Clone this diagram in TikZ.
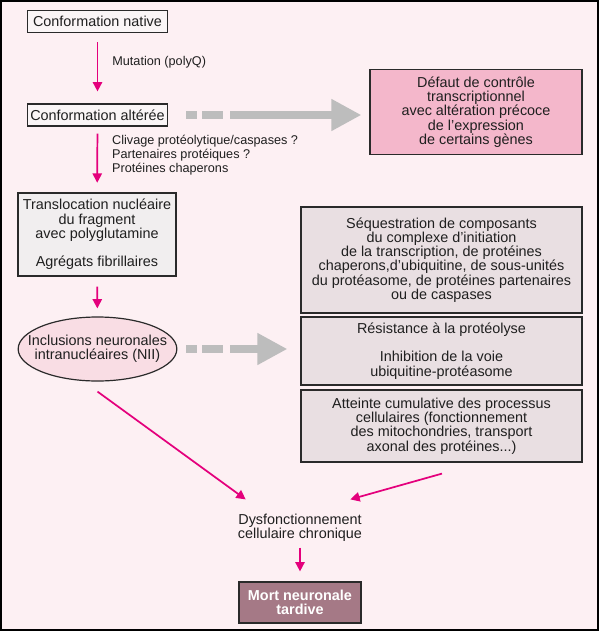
\documentclass[tikz,border=0pt]{standalone}
\usepackage{fontspec}
\setmainfont{Liberation Sans}
\usetikzlibrary{arrows.meta,shapes.geometric}
\definecolor{bgpink}{HTML}{FDF0F3}
\definecolor{boxline}{HTML}{2A2A2A}
\definecolor{statefill}{HTML}{FAF5F6}
\definecolor{translocfill}{HTML}{F1EEEF}
\definecolor{defectfill}{HTML}{F4B7CB}
\definecolor{nIIfill}{HTML}{F9DDE4}
\definecolor{effectfill}{HTML}{E9DFE2}
\definecolor{deathfill}{HTML}{A57986}
\definecolor{arrowpink}{HTML}{E4007C}
\definecolor{arrowgray}{HTML}{BDBDBD}

\begin{document}
\begin{tikzpicture}[
  x=0.75pt,y=-0.75pt,
  font=\fontsize{10.8}{10.7}\selectfont,
  every node/.style={align=center,text=black!88},
  state/.style={draw=boxline,line width=0.9pt,fill=statefill,inner sep=0pt,minimum width=105pt,minimum height=16.5pt},
  transloc/.style={state,fill=translocfill,minimum width=118.5pt,minimum height=62.25pt},
  defect/.style={draw=boxline,line width=0.9pt,fill=defectfill,inner sep=0pt,minimum width=159pt,minimum height=63.75pt},
  inclusion/.style={draw=boxline,line width=0.9pt,fill=nIIfill,shape=ellipse,inner xsep=-14pt,inner ysep=0pt,minimum width=119pt,minimum height=48pt},
  effect/.style={draw=boxline,line width=0.9pt,fill=effectfill,inner sep=0pt,minimum width=210.75pt},
  death/.style={draw=boxline,line width=0.9pt,fill=deathfill,inner sep=0pt,minimum width=91.5pt,minimum height=30.75pt,text=white,font=\fontsize{10.8}{10.7}\selectfont\bfseries},
  note/.style={font=\fontsize{9.5}{10.5}\selectfont,align=left,inner sep=0pt},
  to/.style={-{Triangle[length=7pt,width=7pt]},draw=arrowpink,line width=1.3pt},
  faded/.style={draw=arrowgray,line width=5.5pt,-{Triangle[length=22.5pt,width=22.5pt]},
    dash pattern=on 8pt off 3.75pt on 16pt off 5pt on 400pt}]

  % frame and background
  \useasboundingbox (0,0) rectangle (600,632);
  \draw[black,line width=1.5pt,fill=bgpink] (1,1) rectangle (598,630);

  % left column
  \node[state] (native) at (97.5,21.5) {Conformation native};
  \node[state] (altered) at (97.5,115) {Conformation altérée};
  \node[transloc] (transloc) at (97,234.5) {Translocation nucléaire\\du fragment\\avec polyglutamine\\[10.5pt]Agrégats fibrillaires};
  \node[inclusion] (nii) at (97.5,349) {Inclusions neuronales\\intranucléaires (NII)};

  % right column
  \node[defect] (defect) at (476,112) {Défaut de contrôle\\transcriptionnel\\avec altération précoce\\de l’expression\\de certains gènes};
  \node[effect,minimum height=79.5pt] (sequestr) at (441.5,260) {Séquestration de composants\\du complexe d’initiation\\de la transcription, de protéines\\chaperons,d’ubiquitine, de sous-unités\\du protéasome, de protéines partenaires\\ou de caspases};
  \node[effect,minimum height=51pt] (resist) at (441.5,351) {Résistance à la protéolyse\\[10.7pt]Inhibition de la voie\\ubiquitine-protéasome};
  \node[effect,minimum height=54pt] (cumul) at (441.5,426) {Atteinte cumulative des processus\\cellulaires (fonctionnement\\des mitochondries, transport\\axonal des protéines...)};

  % outcome
  \node[inner sep=0pt] (dysf) at (300,527.5) {Dysfonctionnement\\cellulaire chronique};
  \node[death] (death) at (300,602.5) {Mort neuronale\\tardive};

  % arrows
  \draw[to,shorten <=6.75pt,shorten >=9pt] (native) -- node[note,right=10.5pt,pos=0.42] {Mutation (polyQ)} (altered);
  \draw[to,shorten <=5.25pt,shorten >=7.25pt] (altered) -- node[note,right=10.5pt,pos=0.44] {Clivage protéolytique/caspases ?\\Partenaires protéiques ?\\Protéines chaperons} (transloc);
  \draw[to,shorten <=7.5pt,shorten >=6pt] (transloc) -- (nii);
  \draw[to] ([shift={(0,10)}]nii.south) -- ([shift={(8,-14)}]dysf.north west);
  \draw[to] ([shift={(0.5,11)}]cumul.south) -- ([shift={(-12,-14)}]dysf.north east);
  \draw[to,shorten <=4.5pt,shorten >=7.5pt] (dysf) -- (death);

  \draw[faded,shorten <=13.7pt,shorten >=6pt] (altered.east) -- (altered.east -| defect.west);
  \draw[faded,shorten <=6.75pt,shorten >=9.75pt] (nii.east) -- (nii.east -| resist.west);

\end{tikzpicture}
\end{document}
